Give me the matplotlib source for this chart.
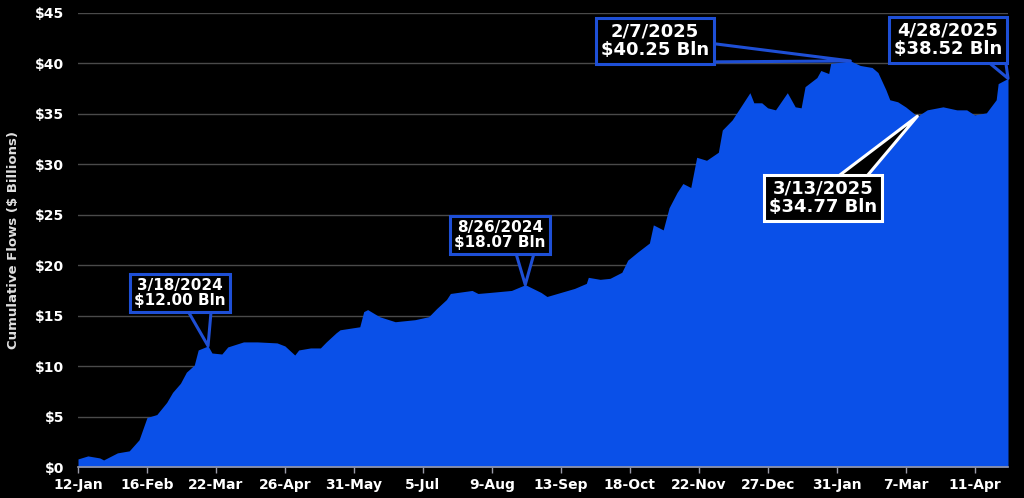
import matplotlib.pyplot as plt
import pandas as pd

# cumulative flows ($ bn)
dates = [
    '2024-01-12', '2024-01-17', '2024-01-23', '2024-01-25', '2024-02-01', '2024-02-07',
    '2024-02-12', '2024-02-16', '2024-02-21', '2024-02-26', '2024-02-29', '2024-03-04',
    '2024-03-07', '2024-03-11', '2024-03-13', '2024-03-18', '2024-03-20', '2024-03-25',
    '2024-03-28', '2024-04-05', '2024-04-12', '2024-04-22', '2024-04-26', '2024-05-01',
    '2024-05-03', '2024-05-09', '2024-05-14', '2024-05-17', '2024-05-22', '2024-05-24',
    '2024-06-03', '2024-06-05', '2024-06-07', '2024-06-13', '2024-06-21', '2024-07-01',
    '2024-07-08', '2024-07-12', '2024-07-17', '2024-07-19', '2024-07-30', '2024-08-02',
    '2024-08-08', '2024-08-19', '2024-08-26', '2024-09-03', '2024-09-06', '2024-09-13',
    '2024-09-20', '2024-09-26', '2024-09-27', '2024-10-03', '2024-10-08', '2024-10-14',
    '2024-10-17', '2024-10-22', '2024-10-28', '2024-10-30', '2024-11-04', '2024-11-07',
    '2024-11-11', '2024-11-14', '2024-11-18', '2024-11-21', '2024-11-26', '2024-12-02',
    '2024-12-04', '2024-12-09', '2024-12-13', '2024-12-18', '2024-12-20', '2024-12-24',
    '2024-12-27', '2024-12-31', '2025-01-06', '2025-01-10', '2025-01-13', '2025-01-15',
    '2025-01-21', '2025-01-23', '2025-01-27', '2025-01-28', '2025-02-07', '2025-02-12',
    '2025-02-18', '2025-02-21', '2025-02-25', '2025-02-27', '2025-03-03', '2025-03-07',
    '2025-03-13', '2025-03-18', '2025-03-26', '2025-04-02', '2025-04-07', '2025-04-11',
    '2025-04-17', '2025-04-22', '2025-04-23', '2025-04-28',
]
flows = [
    0.8, 1.1, 0.9, 0.7, 1.4, 1.6,
    2.7, 4.9, 5.2, 6.4, 7.4, 8.3,
    9.4, 10.1, 11.6, 12.00, 11.3, 11.2,
    11.9, 12.4, 12.4, 12.3, 12.0, 11.1,
    11.6, 11.8, 11.8, 12.4, 13.3, 13.6,
    13.9, 15.4, 15.6, 14.9, 14.4, 14.6,
    14.9, 15.7, 16.6, 17.2, 17.5, 17.2,
    17.3, 17.5, 18.07, 17.3, 16.9, 17.3,
    17.7, 18.2, 18.8, 18.6, 18.7, 19.3,
    20.5, 21.3, 22.2, 24.0, 23.5, 25.7,
    27.2, 28.1, 27.7, 30.7, 30.4, 31.2,
    33.4, 34.4, 35.6, 37.1, 36.1, 36.1,
    35.6, 35.4, 37.1, 35.7, 35.6, 37.7,
    38.6, 39.3, 39.0, 40.0, 40.25, 39.8,
    39.6, 39.1, 37.4, 36.4, 36.2, 35.7,
    34.77, 35.4, 35.7, 35.4, 35.4, 34.9,
    35.1, 36.4, 38.0, 38.52,
]

tick_dates = ['2024-01-12', '2024-02-16', '2024-03-22', '2024-04-26', '2024-05-31',
              '2024-07-05', '2024-08-09', '2024-09-13', '2024-10-18', '2024-11-22',
              '2024-12-27', '2025-01-31', '2025-03-07', '2025-04-11']
tick_labels = ['12-Jan', '16-Feb', '22-Mar', '26-Apr', '31-May', '5-Jul', '9-Aug',
               '13-Sep', '18-Oct', '22-Nov', '27-Dec', '31-Jan', '7-Mar', '11-Apr']
y_ticks = [0, 5, 10, 15, 20, 25, 30, 35, 40, 45]
y_labels = ['$0', '$5', '$10', '$15', '$20', '$25', '$30', '$35', '$40', '$45']

# callouts: date, value, label
note_dates = ['2024-03-18', '2024-08-26', '2025-02-07', '2025-03-13', '2025-04-28']
note_values = [12.00, 18.07, 40.25, 34.77, 38.52]
note_labels = ['3/18/2024\n$12.00 Bln', '8/26/2024\n$18.07 Bln', '2/7/2025\n$40.25 Bln',
               '3/13/2025\n$34.77 Bln', '4/28/2025\n$38.52 Bln']

W, H = 1024, 498
x = pd.to_datetime(dates)
blue = '#0A50E8'
edge_blue = '#1E4FD6'

fig = plt.figure(figsize=(W / 100, H / 100), dpi=100, facecolor='black')
ax = fig.add_axes([78 / W, 31 / H, 930 / W, 454 / H])
ax.set_facecolor('black')

ax.fill_between(x, flows, 0, color=blue, lw=0, zorder=2)

ax.set_xlim(pd.Timestamp('2024-01-12'), pd.Timestamp('2025-04-28'))
ax.set_ylim(0, 45)
ax.set_yticks(y_ticks)
ax.set_yticklabels(y_labels)
ax.set_xticks(pd.to_datetime(tick_dates))
ax.set_xticklabels(tick_labels)
ax.grid(axis='y', color='#4a4a4a', lw=1, zorder=0)
ax.set_axisbelow(True)

for s in ['top', 'right', 'left']:
    ax.spines[s].set_visible(False)
ax.spines['bottom'].set_color('#9a9aa8')
ax.spines['bottom'].set_linewidth(1.2)
ax.spines['bottom'].set_zorder(3)

ax.tick_params(axis='y', length=0, pad=10, colors='white', labelsize=10)
ax.tick_params(axis='x', length=4, width=1, color='#9a9aa8', pad=4,
               colors='white', labelsize=10)
for lab in ax.get_xticklabels() + ax.get_yticklabels():
    lab.set_fontweight('bold')
    lab.set_color('white')

ax.set_ylabel('Cumulative Flows ($ Billions)', color='#e0e0e0', fontsize=9.5,
              fontweight='bold', labelpad=11)

# box centres and wedge bases in pixels from the top-left corner
box_pos = [(180, 293), (500, 235), (655, 41), (823, 198), (948, 40)]
anchor_pos = [(199, 305), (525, 250), (700, 52), (845, 185), (995, 55)]
box_size = [11, 11, 13, 13, 13]
box_edge = [edge_blue, edge_blue, edge_blue, 'white', edge_blue]
wedge_w = [0.95, 0.72, 0.72, 0.8, 0.75]

for d, v, lab, pos, anc, fs, ec, tw in zip(note_dates, note_values, note_labels, box_pos,
                                           anchor_pos, box_size, box_edge, wedge_w):
    ax.annotate('', xy=(pd.Timestamp(d), v), xycoords='data',
                xytext=(anc[0], H - anc[1]), textcoords='figure pixels', zorder=4,
                annotation_clip=False,
                arrowprops=dict(arrowstyle=f'wedge,tail_width={tw}', fc='black',
                                ec=ec, lw=2.2, mutation_scale=20,
                                shrinkA=0, shrinkB=0))
    fig.text(pos[0] / W, 1 - pos[1] / H, lab, ha='center', va='center',
             color='white', fontsize=fs, fontweight='bold', linespacing=1.05,
             zorder=6,
             bbox=dict(boxstyle='square,pad=0.25', fc='black', ec=ec, lw=2.2))

fig.savefig('out.png', dpi=100, facecolor='black')
